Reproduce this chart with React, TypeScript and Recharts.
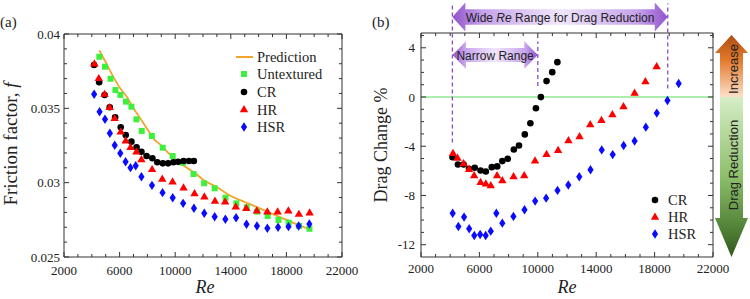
import React from "react";
import { ScatterChart, Scatter, XAxis, YAxis, ReferenceLine } from "recharts";

const SERIF = '"Liberation Serif", "Times New Roman", serif';
const SANS = '"Liberation Sans", Arial, sans-serif';
const AXIS = "#333";

// (a) friction factor vs Re
const RE_UNTEXTURED = [4540, 4950, 5350, 5700, 6060, 6460, 6850, 7210, 7590, 8320, 9100, 9820, 10550, 11320, 12080, 12840, 13620, 14400, 15150, 15900, 16650, 17430, 18160, 18920, 19660];
const F_UNTEXTURED = [0.03847, 0.0378, 0.03699, 0.03623, 0.0359, 0.03545, 0.03511, 0.03426, 0.03348, 0.03314, 0.03235, 0.03179, 0.03134, 0.03058, 0.02996, 0.02962, 0.02899, 0.02861, 0.02834, 0.02805, 0.02776, 0.02749, 0.02731, 0.02709, 0.0269];

const RE_PREDICTION = [4540, 5000, 5500, 6000, 6500, 7000, 7500, 8000, 8500, 9000, 9500, 10000, 10500, 11000, 11500, 12000, 13000, 14000, 15000, 16000, 17000, 18000, 19000, 19800];
const F_PREDICTION = [0.0389, 0.0381, 0.0372, 0.0364, 0.0358, 0.035, 0.0343, 0.0336, 0.0329, 0.0325, 0.032, 0.0316, 0.0312, 0.0309, 0.0306, 0.0302, 0.0297, 0.0291, 0.0287, 0.0283, 0.0279, 0.0275, 0.0271, 0.0268];

const RE_CR = [4160, 4530, 4920, 5290, 5680, 6080, 6440, 6850, 7220, 7570, 7940, 8360, 8710, 9110, 9490, 9870, 10210, 10600, 10990, 11340];
const F_CR = [0.03791, 0.03675, 0.0359, 0.03507, 0.0344, 0.03372, 0.0332, 0.03276, 0.03238, 0.03208, 0.03179, 0.03164, 0.03137, 0.0313, 0.0313, 0.03137, 0.0314, 0.03146, 0.03146, 0.03146];

const RE_HR = [4190, 4500, 4920, 5290, 5640, 6080, 6440, 6780, 7210, 7570, 8340, 9070, 9810, 10600, 11390, 12100, 12860, 13590, 14360, 15110, 15870, 16630, 17370, 18140, 18900, 19670];
const F_HR = [0.038, 0.03702, 0.03596, 0.03507, 0.03433, 0.03343, 0.03282, 0.03238, 0.03208, 0.03157, 0.0309, 0.03025, 0.03007, 0.02966, 0.02928, 0.02906, 0.02877, 0.02872, 0.02838, 0.02828, 0.02811, 0.02805, 0.02805, 0.02811, 0.02789, 0.02798];

const RE_HSR = [4170, 4560, 4950, 5300, 5650, 6050, 6430, 6780, 7160, 7570, 8330, 9090, 9820, 10570, 11350, 12090, 12840, 13610, 14380, 15130, 15880, 16630, 17400, 18150, 18880, 19650];
const F_HSR = [0.03595, 0.03477, 0.03427, 0.03332, 0.03252, 0.03198, 0.03141, 0.03101, 0.03114, 0.0304, 0.02982, 0.02933, 0.02899, 0.02861, 0.02828, 0.02794, 0.02771, 0.02754, 0.02764, 0.0272, 0.02709, 0.02693, 0.027, 0.02704, 0.02709, 0.02722];

// (b) drag change %, same Re grids
const DC_CR = [-4.89, -5.48, -5.48, -5.83, -5.75, -5.97, -6.05, -5.7, -5.64, -5.21, -5.02, -4.26, -3.94, -3.04, -2.13, -0.91, -0.01, 1.29, 2.02, 2.83];
const DC_HR = [-4.56, -4.95, -5.4, -5.87, -6.37, -6.92, -7.05, -7.19, -6.37, -6.78, -6.45, -6.37, -5.18, -4.64, -4.32, -3.53, -3.21, -2.23, -1.88, -1.42, -0.77, 0.33, 1.26, 2.48];
const DC_HSR = [-9.44, -10.52, -9.76, -10.7, -11.25, -11.17, -11.25, -10.9, -9.44, -10.25, -9.7, -9.16, -8.46, -8.22, -7.59, -7.15, -6.48, -5.91, -4.3, -4.68, -3.94, -3.57, -2.45, -1.31, -0.28, 1.1];

// Re limits of the marked drag-reduction ranges
const RANGE_START = 4150;
const NARROW_END = 10000;
const WIDE_END = 18900;

const RE_MAJOR = [2000, 6000, 10000, 14000, 18000, 22000];
const RE_LABELS = ["2000", "6000", "10000", "14000", "18000", "22000"];
const F_MAJOR = [0.025, 0.03, 0.035, 0.04];
const F_LABELS = ["0.025", "0.03", "0.035", "0.04"];
const DC_MAJOR = [-12, -8, -4, 0, 4];
const DC_LABELS = ["-12", "-8", "-4", "0", "4"];

const steps = (from: number, to: number, step: number) =>
  Array.from({ length: Math.round((to - from) / step) + 1 }, (_, i) => +(from + i * step).toFixed(4));

const RE_TICKS = steps(2000, 22000, 1000);
const F_TICKS = steps(0.025, 0.04, 0.001);
const DC_TICKS = steps(-12, 5, 1);

const pts = (xs: number[], ys: number[]) => ys.map((y, i) => ({ x: xs[i], y }));

const COLORS = {
  prediction: "#f2a52a",
  untextured: "#3ef03e",
  cr: "#000000",
  hr: "#ff0000",
  hsr: "#0b0bff",
  zero: "#90e890",
  dash: "#8a4fc0",
};

function Square({ cx, cy }: any) {
  return <rect x={cx - 3} y={cy - 3} width={6} height={6} fill={COLORS.untextured} />;
}
function Dot({ cx, cy }: any) {
  return <circle cx={cx} cy={cy} r={3.3} fill={COLORS.cr} />;
}
function Tri({ cx, cy }: any) {
  return <polygon points={`${cx},${cy - 4.4} ${cx + 4.2},${cy + 2.8} ${cx - 4.2},${cy + 2.8}`} fill={COLORS.hr} />;
}
function Diamond({ cx, cy }: any) {
  return <polygon points={`${cx},${cy - 4.7} ${cx + 3.1},${cy} ${cx},${cy + 4.7} ${cx - 3.1},${cy}`} fill={COLORS.hsr} />;
}
const Nothing = () => <g />;

// tick marks point into the plot; only majors on the bottom/left carry labels
function AxisTick({ x, y, payload, side, majors, labels, gap }: any) {
  const v = payload.value as number;
  const idx = majors.findIndex((m: number) => Math.abs(m - v) < 1e-9);
  const len = idx >= 0 ? 5 : 3;
  const dx = side === "left" ? len : side === "right" ? -len : 0;
  const dy = side === "bottom" ? -len : side === "top" ? len : 0;
  const show = idx >= 0 && labels;
  return (
    <g>
      <line x1={x} y1={y} x2={x + dx} y2={y + dy} stroke={AXIS} strokeWidth={1} />
      {show && side === "bottom" && (
        <text x={x} y={y + gap} textAnchor="middle" fontFamily={SERIF} fontSize={13} fill="#222">
          {labels[idx]}
        </text>
      )}
      {show && side === "left" && (
        <text x={x - gap} y={y + 4.5} textAnchor="end" fontFamily={SERIF} fontSize={13} fill="#222">
          {labels[idx]}
        </text>
      )}
    </g>
  );
}

function FrameAxes({ yTicks, yMajors, yLabels, yDomain, xGap, yGap }: any) {
  return [
    <XAxis key="xb" type="number" dataKey="x" domain={[2000, 22000]} allowDataOverflow ticks={RE_TICKS} interval={0}
      height={1} tickSize={0} tickMargin={0} tickLine={false} axisLine={{ stroke: AXIS }}
      tick={(p: any) => <AxisTick {...p} side="bottom" majors={RE_MAJOR} labels={RE_LABELS} gap={xGap} />} />,
    <XAxis key="xt" xAxisId="top" orientation="top" type="number" dataKey="x" domain={[2000, 22000]} allowDataOverflow
      ticks={RE_TICKS} interval={0} height={1} tickSize={0} tickMargin={0} tickLine={false} axisLine={{ stroke: AXIS }}
      tick={(p: any) => <AxisTick {...p} side="top" majors={RE_MAJOR} />} />,
    <YAxis key="yl" type="number" dataKey="y" domain={yDomain} allowDataOverflow ticks={yTicks} interval={0}
      width={1} tickSize={0} tickMargin={0} tickLine={false} axisLine={{ stroke: AXIS }}
      tick={(p: any) => <AxisTick {...p} side="left" majors={yMajors} labels={yLabels} gap={yGap} />} />,
    <YAxis key="yr" yAxisId="right" orientation="right" type="number" dataKey="y" domain={yDomain} allowDataOverflow
      ticks={yTicks} interval={0} width={1} tickSize={0} tickMargin={0} tickLine={false} axisLine={{ stroke: AXIS }}
      tick={(p: any) => <AxisTick {...p} side="right" majors={yMajors} />} />,
  ];
}

// right panel plot box, used for the annotation arrows
const R_LEFT = 375 + 46;
const R_WIDTH = 292;
const rx = (re: number) => R_LEFT + ((re - 2000) / 20000) * R_WIDTH;

function doubleArrow(x1: number, x2: number, cy: number, body: number, head: number, hl: number) {
  return `M${x1},${cy} L${x1 + hl},${cy - head} L${x1 + hl},${cy - body} L${x2 - hl},${cy - body} L${x2 - hl},${cy - head} L${x2},${cy} L${x2 - hl},${cy + head} L${x2 - hl},${cy + body} L${x1 + hl},${cy + body} L${x1 + hl},${cy + head} Z`;
}

function Overlay() {
  const wideL = rx(RANGE_START);
  const wideR = rx(WIDE_END);
  const narR = rx(NARROW_END);
  const legendL = [
    { label: "Untextured", Mark: Square, y: 74 },
    { label: "CR", Mark: Dot, y: 92 },
    { label: "HR", Mark: Tri, y: 109.5 },
    { label: "HSR", Mark: Diamond, y: 127 },
  ];
  const legendR = [
    { label: "CR", Mark: Dot, y: 200 },
    { label: "HR", Mark: Tri, y: 217 },
    { label: "HSR", Mark: Diamond, y: 234 },
  ];
  return (
    <svg width={750} height={299} style={{ position: "absolute", left: 0, top: 0, pointerEvents: "none" }}>
      <defs>
        <linearGradient id="purple" x1="0" y1="0" x2="1" y2="0">
          <stop offset="0" stopColor="#9152cc" />
          <stop offset="0.14" stopColor="#c6a2ea" />
          <stop offset="0.5" stopColor="#f0e6fb" />
          <stop offset="0.86" stopColor="#c6a2ea" />
          <stop offset="1" stopColor="#9152cc" />
        </linearGradient>
        <linearGradient id="orange" gradientUnits="userSpaceOnUse" x1="0" y1="35" x2="0" y2="97">
          <stop offset="0" stopColor="#b04e12" />
          <stop offset="0.4" stopColor="#e27a2c" />
          <stop offset="1" stopColor="#fde0c9" />
        </linearGradient>
        <linearGradient id="green" gradientUnits="userSpaceOnUse" x1="0" y1="97" x2="0" y2="257">
          <stop offset="0" stopColor="#d6eec6" />
          <stop offset="0.5" stopColor="#8dbe6a" />
          <stop offset="0.85" stopColor="#4b7c32" />
          <stop offset="1" stopColor="#33561e" />
        </linearGradient>
      </defs>

      <text x={0} y={27} fontFamily={SERIF} fontSize={15} fill="#222">(a)</text>
      <text x={372} y={27} fontFamily={SERIF} fontSize={15} fill="#222">(b)</text>

      <text x={10} y={144} transform="rotate(-90 10 144)" textAnchor="middle" dominantBaseline="central"
        fontFamily={SERIF} fontSize={19} fill="#222">
        Friction factor, <tspan fontStyle="italic">f</tspan>
      </text>
      <text x={205} y={293} textAnchor="middle" fontFamily={SERIF} fontStyle="italic" fontSize={18} fill="#222">Re</text>
      <text x={381} y={145} transform="rotate(-90 381 145)" textAnchor="middle" dominantBaseline="central"
        fontFamily={SERIF} fontSize={18} fill="#222">
        Drag Change %
      </text>
      <text x={567} y={293} textAnchor="middle" fontFamily={SERIF} fontStyle="italic" fontSize={18} fill="#222">Re</text>

      {/* legend (a) */}
      <line x1={236} x2={253} y1={57} y2={57} stroke={COLORS.prediction} strokeWidth={2} />
      <text x={257} y={62} fontFamily={SERIF} fontSize={14.5} fill="#222">Prediction</text>
      {legendL.map(({ label, Mark, y }) => (
        <g key={label}>
          <Mark cx={244} cy={y} />
          <text x={257} y={y + 5} fontFamily={SERIF} fontSize={14.5} fill="#222">{label}</text>
        </g>
      ))}

      {/* legend (b) */}
      {legendR.map(({ label, Mark, y }) => (
        <g key={label}>
          <Mark cx={655} cy={y} />
          <text x={668} y={y + 5} fontFamily={SERIF} fontSize={14.5} fill="#222">{label}</text>
        </g>
      ))}

      {/* Re range arrows */}
      <path d={doubleArrow(wideL, wideR, 17, 7.8, 14.5, 13)} fill="url(#purple)" />
      <text x={(wideL + wideR) / 2} y={21.5} textAnchor="middle" fontFamily={SANS} fontSize={12} fill="#222">
        Wide <tspan fontStyle="italic">Re</tspan> Range for Drag Reduction
      </text>
      <path d={doubleArrow(wideL, narR, 55, 7, 13.8, 13.5)} fill="url(#purple)" />
      <text x={(wideL + narR) / 2} y={59.5} textAnchor="middle" fontFamily={SANS} fontSize={12} fill="#222">
        Narrow Range
      </text>

      {/* increase / reduction arrow */}
      <path d="M731.5,35 L748,53 L743,53 L743,97 L720,97 L720,53 L715,53 Z" fill="url(#orange)" />
      <path d="M720,97 L743,97 L743,218 L748,218 L731.5,257 L715,218 L720,218 Z" fill="url(#green)" />
      <text x={733} y={69} transform="rotate(-90 733 69)" textAnchor="middle" dominantBaseline="central"
        fontFamily={SANS} fontSize={13} fill="#222">Increase</text>
      <text x={733} y={165} transform="rotate(-90 733 165)" textAnchor="middle" dominantBaseline="central"
        fontFamily={SANS} fontSize={13} fill="#222">Drag Reduction</text>
    </svg>
  );
}

export default function App() {
  return (
    <div style={{ position: "absolute", left: 0, top: 0, width: 750, height: 299, background: "#fff" }}>
      <div style={{ position: "absolute", left: 0, top: 0 }}>
        <ScatterChart width={375} height={299} margin={{ top: 33, right: 32, bottom: 41, left: 63 }}>
          {FrameAxes({ yTicks: F_TICKS, yMajors: F_MAJOR, yLabels: F_LABELS, yDomain: [0.025, 0.04], xGap: 18, yGap: 4 })}
          <Scatter data={pts(RE_PREDICTION, F_PREDICTION)} line={{ stroke: COLORS.prediction, strokeWidth: 1.8 }}
            lineType="joint" lineJointType="monotoneX" shape={Nothing} isAnimationActive={false} />
          <Scatter data={pts(RE_UNTEXTURED, F_UNTEXTURED)} shape={Square} isAnimationActive={false} />
          <Scatter data={pts(RE_HSR, F_HSR)} shape={Diamond} isAnimationActive={false} />
          <Scatter data={pts(RE_CR, F_CR)} shape={Dot} isAnimationActive={false} />
          <Scatter data={pts(RE_HR, F_HR)} shape={Tri} isAnimationActive={false} />
        </ScatterChart>
      </div>
      <div style={{ position: "absolute", left: 375, top: 0 }}>
        <ScatterChart width={375} height={299} margin={{ top: 32, right: 36, bottom: 41, left: 45 }}>
          {FrameAxes({ yTicks: DC_TICKS, yMajors: DC_MAJOR, yLabels: DC_LABELS, yDomain: [-13, 5.2], xGap: 15.5, yGap: 6 })}
          <ReferenceLine y={0} stroke={COLORS.zero} strokeWidth={1.3} />
          <ReferenceLine segment={[{ x: RANGE_START, y: -3.7 }, { x: RANGE_START, y: 7.6 }]} ifOverflow="visible"
            stroke={COLORS.dash} strokeWidth={1.3} strokeDasharray="4 3" />
          <ReferenceLine segment={[{ x: NARROW_END, y: 0.9 }, { x: NARROW_END, y: 4.5 }]} ifOverflow="visible"
            stroke={COLORS.dash} strokeWidth={1.3} strokeDasharray="4 3" />
          <ReferenceLine segment={[{ x: WIDE_END, y: 0.7 }, { x: WIDE_END, y: 7.6 }]} ifOverflow="visible"
            stroke={COLORS.dash} strokeWidth={1.3} strokeDasharray="4 3" />
          <Scatter data={pts(RE_CR, DC_CR)} shape={Dot} isAnimationActive={false} />
          <Scatter data={pts(RE_HR, DC_HR)} shape={Tri} isAnimationActive={false} />
          <Scatter data={pts(RE_HSR, DC_HSR)} shape={Diamond} isAnimationActive={false} />
        </ScatterChart>
      </div>
      <Overlay />
    </div>
  );
}
